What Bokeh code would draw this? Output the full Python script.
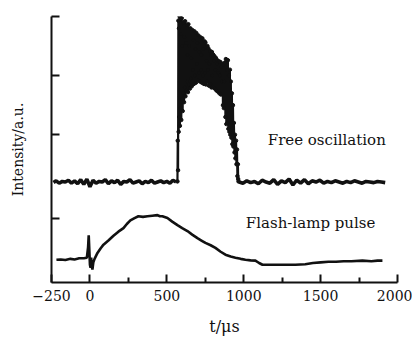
from bokeh.plotting import figure
from bokeh.models import FixedTicker, Range1d, ColumnDataSource
from bokeh.core.properties import value
from bokeh.embed import file_html
from bokeh.resources import INLINE

# ---------------- data ----------------
x_ticks = [-250, 0, 500, 1000, 1500, 2000]
x_minor = [250, 750, 1250, 1750]
x_tick_labels = ["\u2212250", "0", "500", "1000", "1500", "2000"]
y_ticks = [1.09, 2.5, 3.5, 4.5]

# free oscillation: baseline before the burst
osc_pre_t = [-237, -220, -200, -180, -160, -140, -120, -100, -80, -60,
             -40, -20, 0, 20, 40, 60, 80, 100, 120, 140,
             160, 180, 200, 220, 240, 260, 280, 300, 320, 340,
             360, 380, 400, 420, 440, 460, 480, 500, 520, 540, 560]
osc_pre_y = [1.69, 1.72, 1.68, 1.71, 1.70, 1.73, 1.68, 1.72, 1.67, 1.74,
             1.66, 1.75, 1.62, 1.73, 1.68, 1.71, 1.70, 1.74, 1.67, 1.72,
             1.69, 1.73, 1.66, 1.71, 1.70, 1.74, 1.68, 1.70, 1.72, 1.67,
             1.71, 1.69, 1.73, 1.68, 1.70, 1.72, 1.69, 1.71, 1.68, 1.73, 1.70]

# free oscillation: the laser burst (spiky)
osc_burst_t = [569, 571, 573, 575, 577, 579, 581, 583, 585, 588,
               590, 592, 594, 597, 599, 601, 603, 606, 608, 610,
               612, 614, 617, 619, 621, 624, 627, 629, 632, 634,
               637, 640, 643, 646, 650, 653, 656, 659, 662, 666,
               669, 673, 676, 679, 682, 686, 689, 692, 695, 699,
               702, 705, 709, 712, 715, 718, 722, 725, 728, 731,
               735, 738, 741, 745, 748, 751, 754, 758, 761, 764,
               767, 770, 774, 777, 780, 783, 787, 790, 793, 796,
               800, 803, 806, 809, 812, 816, 819, 822, 826, 829,
               832, 836, 839, 842, 845, 848, 852, 855, 858, 862,
               865, 868, 871, 874, 878, 881, 884, 887, 890, 894,
               897, 900, 903, 907, 910, 913, 916, 920, 923, 926,
               930, 933, 936, 940, 943, 946, 950, 953, 956, 959,
               962, 964, 966]
osc_burst_y = [1.71, 2.40, 1.90, 4.43, 2.55, 4.30, 2.80, 4.50, 2.65, 4.45,
               2.95, 4.20, 2.75, 4.47, 3.10, 4.00, 2.90, 4.38, 3.20, 4.40,
               3.05, 4.15, 3.30, 4.42, 3.15, 4.05, 3.25, 4.35, 3.40, 3.85,
               3.22, 4.37, 3.35, 4.00, 3.28, 4.30, 3.45, 3.80, 3.32, 4.27,
               3.60, 4.10, 3.36, 4.25, 3.50, 3.95, 3.38, 4.22, 3.70, 4.05,
               3.42, 4.18, 3.55, 3.90, 3.40, 4.15, 3.60, 3.85, 3.38, 4.13,
               3.50, 3.95, 3.36, 4.08, 3.55, 4.06, 3.35, 3.75, 3.40, 4.00,
               3.60, 3.96, 3.33, 3.70, 3.92, 3.36, 3.85, 3.30, 3.90, 3.50,
               3.86, 3.30, 3.75, 3.83, 3.28, 3.60, 3.80, 3.25, 3.70, 3.76,
               3.23, 3.55, 3.74, 3.20, 3.50, 3.73, 3.18, 3.65, 3.40, 3.70,
               3.00, 3.68, 2.95, 3.40, 3.72, 2.80, 3.78, 2.68, 3.60, 2.70,
               3.76, 2.60, 3.50, 2.55, 3.60, 2.50, 3.40, 2.45, 3.20, 2.34,
               3.00, 2.30, 2.70, 2.20, 2.50, 2.10, 2.40, 2.00, 2.25, 1.80,
               2.00, 1.75, 1.71]

# free oscillation: baseline after the burst
osc_post_t = [970, 995, 1020, 1045, 1070, 1095, 1120, 1145, 1170, 1195,
              1220, 1245, 1270, 1295, 1320, 1345, 1370, 1395, 1420, 1445,
              1470, 1495, 1520, 1545, 1570, 1595, 1620, 1645, 1670, 1695,
              1720, 1745, 1770, 1795, 1820, 1845, 1870, 1895, 1920]
osc_post_y = [1.70, 1.68, 1.72, 1.69, 1.71, 1.67, 1.73, 1.70, 1.68, 1.74,
              1.66, 1.72, 1.69, 1.75, 1.65, 1.73, 1.68, 1.74, 1.67, 1.72,
              1.70, 1.73, 1.68, 1.71, 1.69, 1.72, 1.70, 1.68, 1.71, 1.69,
              1.72, 1.70, 1.68, 1.71, 1.70, 1.69, 1.71, 1.70, 1.69]

# flash-lamp pulse
lamp_t = [-218, -190, -160, -127, -100, -70, -40, -20, -12, -8,
          -4, 0, 4, 8, 12, 16, 22, 30, 49, 70,
          88, 120, 153, 185, 218, 240, 263, 290, 315, 345,
          374, 405, 439, 455, 471, 504, 535, 569, 600, 634,
          665, 699, 725, 751, 785, 816, 850, 881, 915, 946,
          980, 1011, 1045, 1076, 1100, 1122, 1180, 1240, 1300, 1336,
          1400, 1450, 1500, 1551, 1600, 1650, 1700, 1772, 1830, 1870, 1902]
lamp_y = [0.385, 0.39, 0.38, 0.40, 0.39, 0.41, 0.41, 0.42, 0.60, 0.80,
          0.55, 0.30, 0.25, 0.42, 0.28, 0.22, 0.34, 0.40, 0.50, 0.58,
          0.64, 0.71, 0.79, 0.86, 0.92, 0.99, 1.05, 1.09, 1.12, 1.11,
          1.12, 1.13, 1.14, 1.12, 1.12, 1.09, 1.03, 0.97, 0.92, 0.87,
          0.81, 0.75, 0.71, 0.67, 0.63, 0.585, 0.52, 0.47, 0.44, 0.42,
          0.40, 0.385, 0.375, 0.37, 0.33, 0.30, 0.30, 0.30, 0.30, 0.30,
          0.31, 0.33, 0.34, 0.35, 0.35, 0.36, 0.36, 0.37, 0.36, 0.37, 0.37]

series_labels = ["Free oscillation", "Flash-lamp pulse"]
label_t = [1540, 1435]
label_y = [2.41, 1.00]

# ---------------- figure ----------------
FONT = "DejaVu Serif"

p = figure(width=412, height=338, output_backend="svg", toolbar_location=None,
           x_range=Range1d(-250, 2000), y_range=Range1d(0, 4.5),
           min_border_left=51, min_border_right=15, min_border_top=16,
           min_border_bottom=53)
p.outline_line_color = None
p.xgrid.visible = False
p.ygrid.visible = False
p.background_fill_color = "white"
p.border_fill_color = "white"

ink = "#111111"

p.line(osc_pre_t, osc_pre_y, line_color=ink, line_width=3.6)
p.line(osc_post_t, osc_post_y, line_color=ink, line_width=3.6)
p.line(osc_burst_t, osc_burst_y, line_color=ink, line_width=2.2)
p.scatter(osc_burst_t, osc_burst_y, size=3.5, color=ink)
p.line(lamp_t, lamp_y, line_color=ink, line_width=2.6)

src = ColumnDataSource(dict(x=label_t, y=label_y, text=series_labels))
p.text(x="x", y="y", text="text", source=src, text_font=value(FONT),
       text_font_size="15px", text_align="center", text_baseline="middle",
       text_color=ink)

# x axis
xa = p.xaxis[0]
xa.ticker = FixedTicker(ticks=x_ticks, minor_ticks=x_minor)
xa.major_label_overrides = {t: s for t, s in zip(x_ticks, x_tick_labels)}
xa.axis_label = "t/\u03bcs"
xa.axis_label_text_font = FONT
xa.axis_label_text_font_size = "16px"
xa.axis_label_text_font_style = "normal"
xa.axis_label_standoff = 13
xa.major_label_text_font = FONT
xa.major_label_text_font_size = "14px"
xa.major_label_standoff = 7
xa.major_tick_in = 8
xa.major_tick_out = 0
xa.minor_tick_in = 5
xa.minor_tick_out = 0
xa.axis_line_width = 2
xa.major_tick_line_width = 2
xa.minor_tick_line_width = 2
xa.axis_line_color = ink
xa.major_tick_line_color = ink
xa.minor_tick_line_color = ink
xa.major_label_text_color = ink
xa.axis_label_text_color = ink

# y axis
ya = p.yaxis[0]
ya.ticker = FixedTicker(ticks=y_ticks, minor_ticks=[])
ya.major_label_overrides = {t: "" for t in y_ticks}
ya.axis_label = "Intensity/a.u."
ya.axis_label_text_font = FONT
ya.axis_label_text_font_size = "14px"
ya.axis_label_text_font_style = "normal"
ya.axis_label_standoff = 26
ya.major_tick_in = 8
ya.major_tick_out = 0
ya.minor_tick_in = 0
ya.minor_tick_out = 0
ya.axis_line_width = 2
ya.major_tick_line_width = 2
ya.axis_line_color = ink
ya.major_tick_line_color = ink
ya.axis_label_text_color = ink

open("out.html", "w").write(file_html(p, INLINE))
